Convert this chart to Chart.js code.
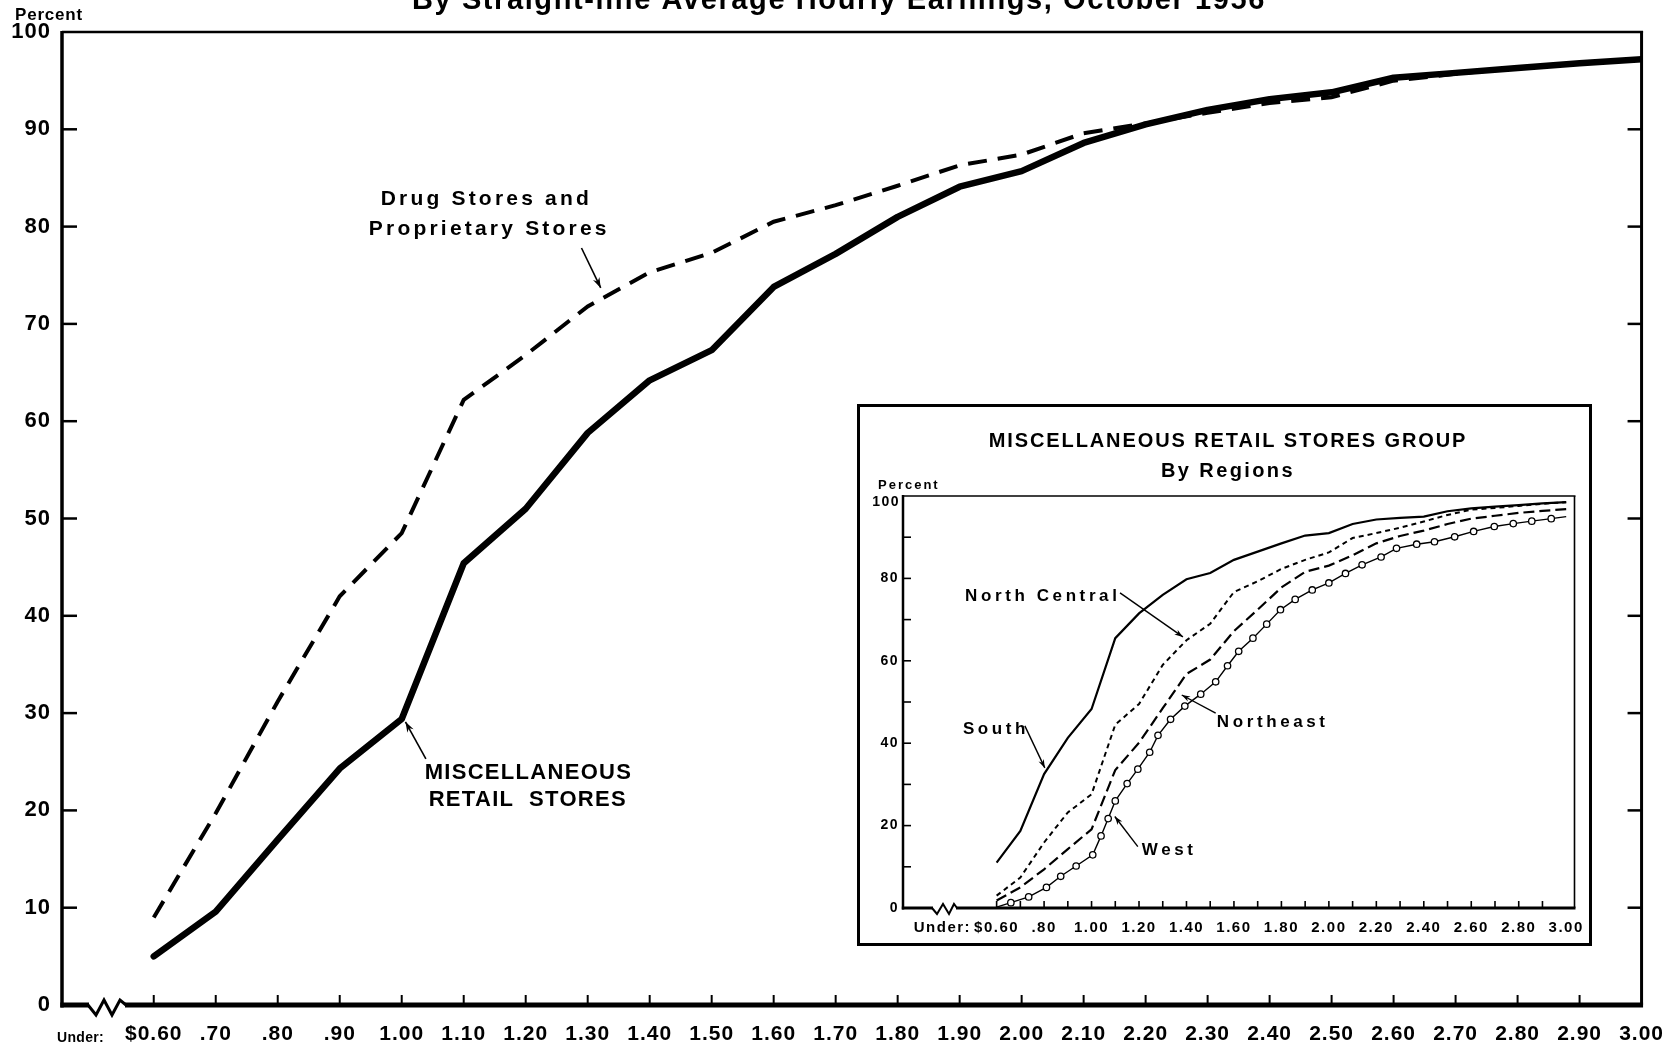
<!DOCTYPE html>
<html><head><meta charset="utf-8">
<script src="https://cdn.jsdelivr.net/npm/chart.js@4.4.1/dist/chart.umd.min.js"></script>
<style>
html,body{margin:0;padding:0;background:#fff;overflow:hidden;width:1679px;height:1048px;}
#main{position:absolute;left:0;top:0;}
#inset{position:absolute;left:857px;top:404px;}
</style></head><body>
<canvas id="main" width="1679" height="1048"></canvas>
<canvas id="inset" width="735" height="542"></canvas>
<script>
// ---------- DATA ----------
const wageLevels = [0.6,0.7,0.8,0.9,1.0,1.1,1.2,1.3,1.4,1.5,1.6,1.7,1.8,1.9,2.0,2.1,2.2,2.3,2.4,2.5,2.6,2.7,2.8,2.9,3.0];
const xTickLabels = ["$0.60",".70",".80",".90","1.00","1.10","1.20","1.30","1.40","1.50","1.60","1.70","1.80","1.90","2.00","2.10","2.20","2.30","2.40","2.50","2.60","2.70","2.80","2.90","3.00"];
const insetTickLabels = ["$0.60","",".80","","1.00","","1.20","","1.40","","1.60","","1.80","","2.00","","2.20","","2.40","","2.60","","2.80","","3.00"];
const miscRetail = [5.0,9.6,17.0,24.3,29.4,45.4,51.0,58.8,64.2,67.3,73.8,77.2,81.0,84.1,85.7,88.6,90.5,92.0,93.1,93.8,95.3,95.8,96.3,96.8,97.2];
const drugStores = [9.0,19.7,31.2,42.0,48.5,62.2,66.8,71.8,75.3,77.3,80.5,82.2,84.2,86.3,87.4,89.6,90.6,91.7,92.7,93.3,95.0,95.7,96.3,96.8,97.2];
const south = [11.0,18.7,32.5,41.3,48.3,65.5,71.5,76.0,79.8,81.3,84.5,86.5,88.5,90.4,91.0,93.2,94.3,94.7,95.0,96.3,97.0,97.4,97.8,98.2,98.5];
const northCentral = [3.0,7.4,15.9,23.2,27.6,44.5,49.5,59.0,65.0,69.0,76.7,79.3,82.3,84.5,86.3,89.8,91.0,92.3,93.8,95.4,96.7,97.1,97.6,98.1,98.5];
const northeast = [1.8,5.0,9.4,14.3,19.1,33.5,40.1,48.5,56.8,60.3,67.2,72.4,77.8,81.6,83.1,85.6,88.5,90.3,91.6,93.2,94.5,95.2,95.9,96.4,96.8];
const westLevels = [0.60,0.66,0.735,0.81,0.87,0.935,1.005,1.04,1.07,1.10,1.15,1.195,1.245,1.28,1.333,1.393,1.46,1.523,1.573,1.62,1.68,1.738,1.796,1.858,1.93,2.00,2.07,2.14,2.22,2.285,2.37,2.445,2.53,2.61,2.697,2.777,2.855,2.937,3.00];
const west = [0.2,1.3,2.7,5.0,7.7,10.2,12.9,17.5,21.7,26.0,30.2,33.7,37.8,41.9,45.8,49.0,51.9,54.9,58.8,62.3,65.5,68.9,72.4,74.9,77.2,78.9,81.2,83.3,85.2,87.3,88.3,88.9,90.1,91.4,92.6,93.3,93.9,94.5,95.0];

// ---------- HELPERS ----------
const FONT = '"Liberation Sans", Arial, sans-serif';
function seg(ctx,x1,y1,x2,y2){ctx.beginPath();ctx.moveTo(x1,y1);ctx.lineTo(x2,y2);ctx.stroke();}
function arrow(ctx,x1,y1,x2,y2,head,lw){
  ctx.save(); ctx.lineWidth=lw; ctx.strokeStyle='#000'; ctx.fillStyle='#000';
  seg(ctx,x1,y1,x2,y2);
  const a=Math.atan2(y2-y1,x2-x1);
  ctx.beginPath(); ctx.moveTo(x2,y2);
  ctx.lineTo(x2-head*Math.cos(a-0.33), y2-head*Math.sin(a-0.33));
  ctx.lineTo(x2-head*0.65*Math.cos(a), y2-head*0.65*Math.sin(a));
  ctx.lineTo(x2-head*Math.cos(a+0.33), y2-head*Math.sin(a+0.33));
  ctx.closePath(); ctx.fill(); ctx.restore();
}
const pts = (xs, ys) => xs.map((x,i)=>({x, y: ys[i]}));

// ---------- MAIN CHART ----------
const mainDeco = {
  id:'mainDeco',
  beforeDraw(chart){ chart.ctx.letterSpacing='1px'; },
  beforeDatasetsDraw(chart){
    const {ctx, chartArea:ca, scales:{x,y}} = chart;
    ctx.save(); ctx.strokeStyle='#000'; ctx.lineCap='butt';
    ctx.lineWidth=2.5; seg(ctx, ca.left, ca.top, ca.right+1.5, ca.top);
    ctx.lineWidth=3; seg(ctx, ca.right, ca.top-1, ca.right, ca.bottom);
    ctx.lineWidth=3.5; seg(ctx, ca.left, ca.top-1, ca.left, ca.bottom+2.5);
    ctx.lineWidth=5;
    seg(ctx, ca.left-1.7, ca.bottom, ca.left+27, ca.bottom);
    seg(ctx, ca.left+63, ca.bottom, ca.right+1.5, ca.bottom);
    ctx.lineWidth=3; ctx.lineJoin='miter';
    ctx.beginPath(); ctx.moveTo(ca.left+26, ca.bottom);
    ctx.lineTo(ca.left+34, ca.bottom+10); ctx.lineTo(ca.left+42, ca.bottom-5);
    ctx.lineTo(ca.left+50, ca.bottom+10); ctx.lineTo(ca.left+58, ca.bottom-5);
    ctx.lineTo(ca.left+64, ca.bottom); ctx.stroke();
    ctx.lineWidth=2.5;
    y.ticks.forEach(t=>{ if(t.value>0 && t.value<100){ const py=y.getPixelForValue(t.value);
      seg(ctx, ca.left, py, ca.left+15, py); seg(ctx, ca.right-14, py, ca.right, py);} });
    ctx.lineWidth=2;
    x.ticks.forEach(t=>{ if(t.value<2.99){ const px=x.getPixelForValue(t.value);
      seg(ctx, px, ca.bottom, px, ca.bottom-10);} });
    ctx.restore();
  },
  afterDraw(chart){
    const {ctx, chartArea:ca, scales:{x,y}} = chart;
    ctx.save(); ctx.fillStyle='#000';
    ctx.textBaseline='alphabetic'; ctx.textAlign='center';
    ctx.font='bold 29px '+FONT; ctx.letterSpacing='1.6px';
    ctx.fillText('By Straight-line Average Hourly Earnings, October 1956', 839, 9);
    ctx.textAlign='left'; ctx.textBaseline='middle';
    ctx.font='bold 17px '+FONT; ctx.letterSpacing='0.8px';
    ctx.fillText('Percent', 15, 15);
    ctx.font='bold 21px '+FONT; ctx.letterSpacing='3.2px';
    ctx.fillText('Drug Stores and', x.getPixelForValue(0.966), y.getPixelForValue(82.8));
    ctx.fillText('Proprietary Stores', x.getPixelForValue(0.947), y.getPixelForValue(79.75));
    ctx.font='bold 22px '+FONT; ctx.letterSpacing='1.3px';
    ctx.fillText('MISCELLANEOUS', x.getPixelForValue(1.037), y.getPixelForValue(23.9));
    ctx.fillText('RETAIL  STORES', x.getPixelForValue(1.0435), y.getPixelForValue(21.1));
    arrow(ctx, x.getPixelForValue(1.29), y.getPixelForValue(77.8), x.getPixelForValue(1.321), y.getPixelForValue(73.7), 11, 1.6);
    arrow(ctx, x.getPixelForValue(1.039), y.getPixelForValue(25.3), x.getPixelForValue(1.006), y.getPixelForValue(29.1), 11, 1.6);
    // "Under:" prefix to first wage label
    ctx.font='bold 21px '+FONT; ctx.letterSpacing='1px';
    const w0 = ctx.measureText(xTickLabels[0]).width;
    ctx.font='bold 14px '+FONT; ctx.letterSpacing='0.3px';
    ctx.textAlign='right'; ctx.textBaseline='alphabetic';
    ctx.fillText('Under:', x.getPixelForValue(wageLevels[0]) - w0/2 - 21, 1042);
    ctx.restore();
  }
};

new Chart(document.getElementById('main'), {
  type:'line',
  data:{datasets:[
    {label:'Miscellaneous Retail Stores', data:pts(wageLevels, miscRetail), borderColor:'#000', borderWidth:6.5,
     pointRadius:0, tension:0, borderCapStyle:'round', borderJoinStyle:'round'},
    {label:'Drug Stores and Proprietary Stores', data:pts(wageLevels, drugStores), borderColor:'#000', borderWidth:4,
     borderDash:[19,11], pointRadius:0, tension:0, borderCapStyle:'butt'}
  ]},
  options:{
    responsive:false, animation:false, devicePixelRatio:1,
    layout:{padding:{top:32,right:37,left:0,bottom:0}},
    plugins:{legend:{display:false}, tooltip:{enabled:false}, title:{display:false}},
    scales:{
      x:{type:'linear', min:0.452, max:3.0,
        afterBuildTicks:s=>{ s.ticks = wageLevels.map(v=>({value:v})); },
        afterFit:s=>{ s.height = 43; },
        grid:{display:false, drawTicks:false}, border:{display:false},
        ticks:{autoSkip:false, maxRotation:0, minRotation:0, padding:17, color:'#000',
          font:{family:FONT, size:21, weight:'bold'}, callback:(v,i)=>xTickLabels[i]}},
      y:{min:0, max:100,
        afterFit:s=>{ s.width = 62; },
        grid:{display:false, drawTicks:false}, border:{display:false},
        ticks:{stepSize:10, padding:11, color:'#000', font:{family:FONT, size:22, weight:'bold'}}}
    }
  },
  plugins:[mainDeco]
});

// ---------- INSET CHART ----------
const insetDeco = {
  id:'insetDeco',
  beforeDraw(chart){ const c=chart.ctx; c.save(); c.fillStyle='#fff'; c.fillRect(0,0,chart.width,chart.height); c.restore(); c.letterSpacing='1.5px'; },
  beforeDatasetsDraw(chart){
    const {ctx, chartArea:ca, scales:{x,y}} = chart;
    ctx.save(); ctx.strokeStyle='#000';
    ctx.lineWidth=3; ctx.strokeRect(1.5,1.5,chart.width-3,chart.height-3);
    ctx.lineWidth=1.6; seg(ctx, ca.left, ca.top, ca.right+1, ca.top); seg(ctx, ca.right, ca.top, ca.right, ca.bottom);
    ctx.lineWidth=2.5; seg(ctx, ca.left, ca.top-1, ca.left, ca.bottom+1.5);
    ctx.lineWidth=3;
    seg(ctx, ca.left-1.2, ca.bottom, ca.left+30, ca.bottom);
    seg(ctx, ca.left+53, ca.bottom, ca.right+1, ca.bottom);
    ctx.lineWidth=2; ctx.lineJoin='miter';
    ctx.beginPath(); ctx.moveTo(ca.left+29, ca.bottom);
    ctx.lineTo(ca.left+34, ca.bottom+6); ctx.lineTo(ca.left+40, ca.bottom-4);
    ctx.lineTo(ca.left+46, ca.bottom+6); ctx.lineTo(ca.left+51, ca.bottom-4);
    ctx.lineTo(ca.left+54, ca.bottom); ctx.stroke();
    ctx.lineWidth=1.6;
    y.ticks.forEach(t=>{ if(t.value>0 && t.value<100){ const py=y.getPixelForValue(t.value); seg(ctx, ca.left, py, ca.left+8, py);} });
    x.ticks.forEach(t=>{ if(t.value<2.99){ const px=x.getPixelForValue(t.value); seg(ctx, px, ca.bottom, px, ca.bottom-7);} });
    ctx.restore();
  },
  afterDraw(chart){
    const {ctx, chartArea:ca, scales:{x,y}} = chart;
    ctx.save(); ctx.fillStyle='#000';
    ctx.textAlign='center'; ctx.textBaseline='middle';
    ctx.font='bold 20px '+FONT; ctx.letterSpacing='1.9px';
    ctx.fillText('MISCELLANEOUS RETAIL STORES GROUP', 371, 37);
    ctx.letterSpacing='2.4px';
    ctx.fillText('By Regions', 371, 67);
    ctx.textAlign='left';
    ctx.font='bold 13px '+FONT; ctx.letterSpacing='2px';
    ctx.fillText('Percent', ca.left-25, ca.top-11);
    // top (100) label sits just below the frame line
    ctx.textAlign='right'; ctx.font='bold 14px '+FONT; ctx.letterSpacing='1.5px';
    ctx.fillText('100', ca.left-3, y.getPixelForValue(100)+6);
    ctx.textAlign='left';
    ctx.font='bold 17px '+FONT; ctx.letterSpacing='3.6px';
    ctx.fillText('North Central', x.getPixelForValue(0.467), y.getPixelForValue(75.6));
    ctx.fillText('South', x.getPixelForValue(0.458), y.getPixelForValue(43.4));
    ctx.fillText('Northeast', x.getPixelForValue(1.528), y.getPixelForValue(45.1));
    ctx.fillText('West', x.getPixelForValue(1.212), y.getPixelForValue(13.9));
    arrow(ctx, x.getPixelForValue(1.12), y.getPixelForValue(76.5), x.getPixelForValue(1.385), y.getPixelForValue(65.8), 9, 1.4);
    arrow(ctx, x.getPixelForValue(0.719), y.getPixelForValue(44.2), x.getPixelForValue(0.803), y.getPixelForValue(34.0), 9, 1.4);
    arrow(ctx, x.getPixelForValue(1.523), y.getPixelForValue(47.3), x.getPixelForValue(1.38), y.getPixelForValue(51.7), 9, 1.4);
    arrow(ctx, x.getPixelForValue(1.195), y.getPixelForValue(14.9), x.getPixelForValue(1.098), y.getPixelForValue(22.2), 9, 1.4);
    ctx.font='bold 15px '+FONT; ctx.letterSpacing='1.5px';
    const w0 = ctx.measureText(insetTickLabels[0]).width;
    ctx.textAlign='right'; ctx.textBaseline='middle';
    ctx.fillText('Under:', x.getPixelForValue(wageLevels[0]) - w0/2 - 3, ca.bottom + 20);
    ctx.restore();
  }
};

new Chart(document.getElementById('inset'), {
  type:'line',
  data:{datasets:[
    {label:'South', data:pts(wageLevels, south), borderColor:'#000', borderWidth:2.2, pointRadius:0, tension:0},
    {label:'North Central', data:pts(wageLevels, northCentral), borderColor:'#000', borderWidth:2, borderDash:[5,4], pointRadius:0, tension:0},
    {label:'Northeast', data:pts(wageLevels, northeast), borderColor:'#000', borderWidth:2.2, borderDash:[11,5], pointRadius:0, tension:0},
    {label:'West', data:pts(westLevels, west), borderColor:'#000', borderWidth:1.4, tension:0,
     pointRadius:westLevels.map((_,i)=>(i===0||i===westLevels.length-1)?0:3.2), pointBackgroundColor:'#fff',
     pointBorderColor:'#000', pointBorderWidth:1.3}
  ]},
  options:{
    responsive:false, animation:false, devicePixelRatio:1,
    layout:{padding:{top:92,right:17,left:0,bottom:0}},
    plugins:{legend:{display:false}, tooltip:{enabled:false}},
    scales:{
      x:{type:'linear', min:0.2055, max:3.035,
        afterBuildTicks:s=>{ s.ticks = wageLevels.map(v=>({value:v})); },
        afterFit:s=>{ s.height = 38; },
        grid:{display:false, drawTicks:false}, border:{display:false},
        ticks:{autoSkip:false, maxRotation:0, minRotation:0, padding:11, color:'#000',
          font:{family:FONT, size:15, weight:'bold'}, callback:(v,i)=>insetTickLabels[i]}},
      y:{min:0, max:100,
        afterFit:s=>{ s.width = 46; },
        grid:{display:false, drawTicks:false}, border:{display:false},
        ticks:{stepSize:10, padding:4, color:'#000', font:{family:FONT, size:14, weight:'bold'},
          callback:v=> ((v%20===0 && v<100) ? String(v) : '')}}
    }
  },
  plugins:[insetDeco]
});
</script>
</body></html>
